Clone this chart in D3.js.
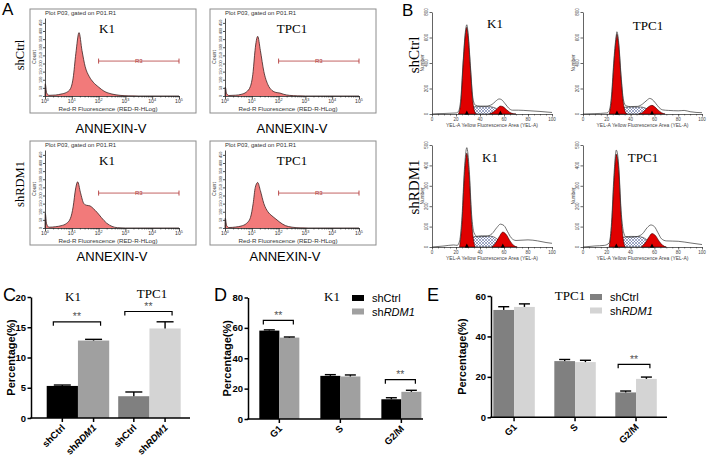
<!DOCTYPE html>
<html><head><meta charset="utf-8">
<script src="https://cdn.jsdelivr.net/npm/d3@7"></script>
<style>body{margin:0;background:#fff}svg{display:block}</style>
</head><body>
<svg id="c" width="708" height="458"></svg>
<script>
// ---------- DATA ----------
// Panel A: Annexin-V histograms, points [log10 fluorescence, count]
const annexDecades = [0,1,2,3,4,5];
const annexCountTicks = [0,50,100,150,200,250,300,350,400,450];
const annexK1Ctrl = [[0,0],[0.01,75],[0.06,20],[0.15,4],[0.4,6],[0.6,12],[0.8,22],[0.95,45],[1.05,110],[1.15,260],[1.27,390],[1.38,280],[1.5,180],[1.65,120],[1.8,85],[2.0,55],[2.2,30],[2.5,12],[2.8,4],[3.1,1],[3.5,0],[5,0]];
const annexTPC1Ctrl = [[0,0],[0.01,55],[0.06,15],[0.15,3],[0.4,5],[0.6,10],[0.8,25],[0.95,60],[1.05,150],[1.12,280],[1.22,367],[1.32,280],[1.45,150],[1.6,70],[1.75,35],[1.9,22],[2.05,18],[2.2,10],[2.4,4],[2.7,1],[3,0],[5,0]];
const annexK1RDM1 = [[0,0],[0.01,90],[0.06,25],[0.15,5],[0.4,8],[0.6,14],[0.8,28],[0.95,60],[1.05,130],[1.14,240],[1.22,284],[1.32,220],[1.45,150],[1.55,140],[1.68,136],[1.8,120],[1.95,95],[2.1,65],[2.3,30],[2.5,10],[2.7,2],[3,0],[5,0]];
const annexTPC1RDM1 = [[0,0],[0.01,60],[0.06,15],[0.15,3],[0.4,6],[0.6,12],[0.8,28],[0.95,65],[1.05,150],[1.13,250],[1.22,280],[1.32,230],[1.45,150],[1.6,100],[1.75,75],[1.9,55],[2.05,35],[2.25,15],[2.5,5],[2.8,1],[3.1,0],[5,0]];
const annexGate = [2,5,215];

// Panel B: cell cycle histograms, points [fluorescence, number]
const cycXTicks = [0,20,40,60,80,100];
const cycTicksTop = [0,200,400,600,800];
const cycTicksBottom = [0,100,200,300,400,500];
const cycK1CtrlTotal = [[0,0],[5,3],[10,4],[15,6],[20,8],[22,20],[24,120],[26,420],[28,660],[29,700],[30,640],[32,380],[34,130],[36,70],[40,62],[45,62],[50,75],[53,100],[56,118],[58,112],[61,80],[64,45],[67,30],[72,30],[80,26],[90,20],[100,12]];
const cycK1CtrlG1 = [[22,0],[24,90],[26,400],[28,640],[29,680],[30,620],[32,360],[34,100],[36,10],[37,0]];
const cycK1CtrlS = [[27,0],[31,35],[34,55],[40,58],[47,58],[52,50],[56,25],[59,0]];
const cycK1CtrlG2 = [[48,0],[51,15],[54,40],[57,62],[59,58],[62,35],[65,12],[68,2],[70,0]];
const cycTPC1CtrlTotal = [[0,0],[10,3],[20,8],[22,25],[24,150],[26,430],[28,620],[28.5,645],[30,560],[32,300],[34,110],[36,65],[40,58],[46,60],[50,78],[54,110],[56,122],[58,115],[61,85],[64,50],[67,32],[72,28],[80,25],[85,28],[90,18],[100,10]];
const cycTPC1CtrlG1 = [[22,0],[24,120],[26,400],[28,600],[28.5,625],[30,540],[32,280],[34,80],[36,8],[37,0]];
const cycTPC1CtrlS = [[27,0],[31,35],[34,52],[40,55],[48,55],[52,48],[56,22],[59,0]];
const cycTPC1CtrlG2 = [[47,0],[50,12],[53,40],[56,62],[58,68],[60,58],[63,32],[66,10],[69,0]];
const cycK1RDM1Total = [[0,0],[10,5],[18,10],[21,8],[23,30],[25,150],[27,380],[29,487],[31,380],[33,160],[35,70],[38,50],[45,52],[50,65],[54,95],[57,112],[60,105],[63,75],[66,45],[70,32],[80,35],[88,30],[95,22],[100,18]];
const cycK1RDM1G1 = [[23,0],[25,120],[27,350],[29,460],[31,350],[33,130],[35,20],[36,0]];
const cycK1RDM1S = [[28,0],[32,30],[35,50],[42,55],[50,52],[55,35],[59,10],[61,0]];
const cycK1RDM1G2 = [[50,0],[53,20],[56,50],[59,73],[62,60],[65,30],[68,8],[71,0]];
const cycTPC1RDM1Total = [[0,0],[10,5],[18,8],[22,20],[24,120],[26,350],[28,475],[30,400],[32,180],[34,75],[36,50],[40,48],[46,52],[50,65],[54,95],[57,108],[60,100],[63,70],[66,40],[70,30],[80,28],[90,20],[100,12]];
const cycTPC1RDM1G1 = [[22,0],[24,100],[26,320],[28,455],[30,380],[32,160],[34,30],[35.5,0]];
const cycTPC1RDM1S = [[27,0],[31,30],[34,48],[40,52],[48,50],[53,38],[57,15],[60,0]];
const cycTPC1RDM1G2 = [[49,0],[52,18],[55,45],[58,66],[61,55],[64,28],[67,8],[70,0]];

// Panel C: apoptosis percentage
const cGroups = ["K1","TPC1"];
const keys = ["shCtrl","shRDM1"];
const cMean = [[5.3,12.8],[3.6,14.8]];
const cErr = [[0.15,0.2],[0.7,1.1]];
const cSig = [15.9,17.6];
const cTicks = [0,5,10,15,20];
// Panels D/E: cell cycle phase percentage
const phases = ["G1","S","G2/M"];
const dMean = [[58.2,53.6],[28.4,28.0],[13.0,17.9]];
const dErr = [[0.5,0.4],[0.8,1.0],[1.0,1.0]];
const dSig = [[0,64.9],[2,25.9]];
const dTicks = [0,20,40,60,80];
const eMean = [[53.1,54.6],[27.8,27.3],[12.3,19.0]];
const eErr = [[1.6,1.5],[0.8,0.9],[0.7,0.9]];
const eSig = [[2,26.2]];
const eTicks = [0,20,40,60];

// ---------- DRAWING ----------
const svg = d3.select("#c");
svg.append("rect").attr("width",708).attr("height",458).attr("fill","#fff");
const defs = svg.append("defs");
const pat = defs.append("pattern").attr("id","hatch").attr("patternUnits","userSpaceOnUse").attr("width",3).attr("height",3);
pat.append("rect").attr("width",3).attr("height",3).attr("fill","#fff");
pat.append("path").attr("d","M0,0L3,3M3,0L0,3").attr("stroke","#44558f").attr("stroke-width",0.5);

const SANS = "Liberation Sans, Arial, sans-serif";
const SERIF = "Liberation Serif, Times New Roman, serif";

function txt(g,x,y,s,size,opt={}){
  const t=g.append("text").attr("x",x).attr("y",y).attr("font-size",size)
    .attr("font-family",opt.serif?SERIF:SANS).attr("fill",opt.fill||"#000")
    .attr("text-anchor",opt.anchor||"start").text(s);
  if(opt.weight) t.attr("font-weight",opt.weight);
  if(opt.rot!==undefined) t.attr("transform",`rotate(${opt.rot},${x},${y})`);
  return t;
}
function styleAxis(a,w,col){a.selectAll("path,line").attr("stroke",col||"#000").attr("stroke-width",w);a.selectAll("text").remove();return a;}

// Panel labels
txt(svg,2,15,"A",17); txt(svg,402,16,"B",17);
txt(svg,3,301,"C",18); txt(svg,214,301,"D",18); txt(svg,427,301,"E",18);

// Row labels
txt(svg,24,55,"shCtrl",12.5,{serif:true,anchor:"middle",rot:-90});
txt(svg,24,184,"shRDM1",12.5,{serif:true,anchor:"middle",rot:-90});
txt(svg,419,55,"shCtrl",15,{serif:true,anchor:"middle",rot:-90});
txt(svg,419,187,"shRDM1",15,{serif:true,anchor:"middle",rot:-90});

// ---- Panel A ----
function flowPanel(bx,by,title,pts,tx){
  const g=svg.append("g");
  g.append("rect").attr("x",bx).attr("y",by).attr("width",166).attr("height",104).attr("fill","none").attr("stroke","#8c8c8c").attr("stroke-width",1);
  const L=bx+15,R=bx+149,T=by+9,B=by+87;
  const x=d3.scaleLinear().domain([0,5]).range([L,R]);
  const y=d3.scaleLinear().domain([0,480]).range([B,T]);
  g.append("path").datum(pts).attr("d",d3.area().x(d=>x(d[0])).y0(B).y1(d=>y(d[1])).curve(d3.curveMonotoneX)).attr("fill","#f27a7a");
  g.append("path").datum(pts).attr("d",d3.line().x(d=>x(d[0])).y(d=>y(d[1])).curve(d3.curveMonotoneX)).attr("fill","none").attr("stroke","#3a2222").attr("stroke-width",0.8);
  styleAxis(g.append("g").attr("transform",`translate(0,${B})`).call(d3.axisBottom(x).tickValues(annexDecades).tickSize(3).tickSizeOuter(0)),0.8,"#222");
  const minor=[];annexDecades.slice(0,-1).forEach(d=>{for(let k=2;k<10;k++)minor.push(d+Math.log10(k));});
  const mg=styleAxis(g.append("g").attr("transform",`translate(0,${B})`).call(d3.axisBottom(x).tickValues(minor).tickSize(1.5)),0.6,"#222");
  mg.select(".domain").remove();
  styleAxis(g.append("g").attr("transform",`translate(${L},0)`).call(d3.axisLeft(y).tickValues(annexCountTicks).tickSize(2).tickSizeOuter(0)),0.8,"#222");
  annexDecades.forEach(d=>{
    const t=txt(g,x(d),B+7,"10",5.2,{anchor:"middle",fill:"#333"});
    t.append("tspan").attr("dy",-2.3).attr("font-size",3.8).text(d);
  });
  annexCountTicks.forEach(v=>txt(g,L-3.5,y(v),v,3.8,{anchor:"middle",rot:-90,fill:"#333"}));
  txt(g,L-9.5,(T+B)/2,"Count",5.2,{anchor:"middle",rot:-90,fill:"#333"});
  txt(g,bx+78,by+101.5,"Red-R Fluorescence (RED-R-HLog)",6.2,{anchor:"middle",fill:"#333"});
  txt(g,L,by+6,"Plot P03, gated on P01.R1",6,{fill:"#333"});
  txt(g,bx+tx,by+24,title,13,{serif:true,anchor:"middle"});
  // gate
  const gy=y(annexGate[2]), gc="#b23a3a";
  g.append("line").attr("x1",x(annexGate[0])).attr("x2",x(annexGate[1])).attr("y1",gy).attr("y2",gy).attr("stroke",gc).attr("stroke-width",0.8);
  [annexGate[0],annexGate[1]].forEach(v=>g.append("line").attr("x1",x(v)).attr("x2",x(v)).attr("y1",gy-2.5).attr("y2",gy+2.5).attr("stroke",gc).attr("stroke-width",0.9));
  txt(g,x((annexGate[0]+annexGate[1])/2),gy+2,"R3",6,{anchor:"middle",fill:gc});
}
flowPanel(30,9,"K1",annexK1Ctrl,77);
flowPanel(210,9,"TPC1",annexTPC1Ctrl,82);
flowPanel(30,141,"K1",annexK1RDM1,77);
flowPanel(210,141,"TPC1",annexTPC1RDM1,82);
txt(svg,111,133,"ANNEXIN-V",13,{anchor:"middle"});
txt(svg,292,133,"ANNEXIN-V",13,{anchor:"middle"});
txt(svg,112,261,"ANNEXIN-V",13,{anchor:"middle"});
txt(svg,285,261,"ANNEXIN-V",13,{anchor:"middle"});

// ---- Panel B ----
function cyclePanel(o){
  const g=svg.append("g");
  const x=d3.scaleLinear().domain([0,100]).range([o.ax,o.ax+o.w]);
  const y=d3.scaleLinear().domain([0,o.ticks[o.ticks.length-1]]).range([o.y0,o.y1]);
  const area=d3.area().x(d=>x(d[0])).y0(o.y0).y1(d=>y(d[1])).curve(d3.curveMonotoneX);
  const line=d3.line().x(d=>x(d[0])).y(d=>y(d[1])).curve(d3.curveMonotoneX);
  g.append("path").datum(o.s).attr("d",area).attr("fill","url(#hatch)").attr("stroke","#222").attr("stroke-width",0.6);
  g.append("path").datum(o.g1).attr("d",area).attr("fill","#e00000").attr("stroke","#300").attr("stroke-width",0.6);
  g.append("path").datum(o.g2).attr("d",area).attr("fill","#e00000").attr("stroke","#300").attr("stroke-width",0.6);
  g.append("path").datum(o.total).attr("d",line).attr("fill","none").attr("stroke","#333").attr("stroke-width",0.7);
  styleAxis(g.append("g").attr("transform",`translate(0,${o.y0})`).call(d3.axisBottom(x).tickValues(cycXTicks).tickSize(2.5).tickSizeOuter(0)),0.7,"#222");
  const minor=d3.range(0,101,5).filter(v=>v%20);
  styleAxis(g.append("g").attr("transform",`translate(0,${o.y0})`).call(d3.axisBottom(x).tickValues(minor).tickSize(1.5)),0.5,"#222").select(".domain").remove();
  styleAxis(g.append("g").attr("transform",`translate(${o.ax},0)`).call(d3.axisLeft(y).tickValues(o.ticks).tickSize(2.5).tickSizeOuter(0)),0.7,"#222");
  cycXTicks.forEach(v=>txt(g,x(v),o.y0+7,v,4.5,{anchor:"middle",fill:"#444"}));
  o.ticks.forEach(v=>txt(g,o.ax-4,y(v),v,4.5,{anchor:"middle",rot:-90,fill:"#444"}));
  txt(g,o.ax-8,(o.y0+o.y1)/2,"Number",4.8,{anchor:"middle",rot:-90,fill:"#444"});
  txt(g,o.ax+o.w/2,o.y0+13,"YEL-A Yellow Fluorescence Area (YEL-A)",5,{anchor:"middle",fill:"#444"});
  txt(g,o.tx,o.ty,o.title,13,{serif:true,anchor:"middle"});
  // mean markers
  [o.g1,o.g2].forEach(arr=>{
    const pk=arr.reduce((a,b)=>b[1]>a[1]?b:a);
    const cx=x(pk[0]);
    g.append("path").attr("d",`M${cx-2},${o.y0+0.5}L${cx+2},${o.y0+0.5}L${cx},${o.y0-3.5}Z`).attr("fill","#000");
  });
}
cyclePanel({ax:432,w:120,y0:114,y1:12,ticks:cycTicksTop,total:cycK1CtrlTotal,g1:cycK1CtrlG1,s:cycK1CtrlS,g2:cycK1CtrlG2,title:"K1",tx:495,ty:28});
cyclePanel({ax:583,w:119,y0:114,y1:12,ticks:cycTicksTop,total:cycTPC1CtrlTotal,g1:cycTPC1CtrlG1,s:cycTPC1CtrlS,g2:cycTPC1CtrlG2,title:"TPC1",tx:648,ty:30});
cyclePanel({ax:432,w:120,y0:247,y1:145,ticks:cycTicksBottom,total:cycK1RDM1Total,g1:cycK1RDM1G1,s:cycK1RDM1S,g2:cycK1RDM1G2,title:"K1",tx:490,ty:162});
cyclePanel({ax:583,w:119,y0:247,y1:145,ticks:cycTicksBottom,total:cycTPC1RDM1Total,g1:cycTPC1RDM1G1,s:cycTPC1RDM1S,g2:cycTPC1RDM1G2,title:"TPC1",tx:643,ty:162});

// ---- Bar panels ----
function keyLabel(t,k){
  if(k==="shRDM1"){t.text("sh");t.append("tspan").attr("font-style","italic").text("RDM1");}
  else t.text(k);
}
function barPanel(o){
  const g=svg.append("g");
  const y=d3.scaleLinear().domain([0,o.ticks[o.ticks.length-1]]).range([o.y0,o.y1]);
  const x0=d3.scaleBand().domain(o.groups).range(o.xr).paddingInner(o.pi).paddingOuter(o.po);
  const x1=d3.scaleBand().domain(keys).range([0,x0.bandwidth()]);
  const bw=x1.bandwidth();
  o.groups.forEach((grp,gi)=>{
    keys.forEach((k,ki)=>{
      const xx=x0(grp)+x1(k), v=o.mean[gi][ki], e=o.err[gi][ki], cx=xx+bw/2;
      g.append("rect").attr("x",xx).attr("y",y(v)).attr("width",bw).attr("height",o.y0-y(v)).attr("fill",o.colors[gi][ki]);
      g.append("line").attr("x1",cx).attr("x2",cx).attr("y1",y(v)).attr("y2",y(v+e)).attr("stroke","#000").attr("stroke-width",1.4);
      g.append("line").attr("x1",cx-o.cap/2).attr("x2",cx+o.cap/2).attr("y1",y(v+e)).attr("y2",y(v+e)).attr("stroke","#000").attr("stroke-width",1.4);
    });
  });
  // axes
  const ya=g.append("g").attr("transform",`translate(${o.ax},0)`).call(d3.axisLeft(y).tickValues(o.ticks).tickSize(3.5).tickSizeOuter(0));
  ya.selectAll("path,line").attr("stroke","#000").attr("stroke-width",1.5);
  ya.selectAll("text").remove();
  o.ticks.forEach(v=>txt(g,o.ax-5,y(v)+3.5,v,9.5,{anchor:"end",weight:"bold"}));
  g.append("line").attr("x1",o.ax-0.75).attr("x2",o.axEnd).attr("y1",o.y0).attr("y2",o.y0).attr("stroke","#000").attr("stroke-width",1.5);
  const tickXs=[];
  if(o.perBar){
    o.groups.forEach(grp=>keys.forEach(k=>tickXs.push({x:x0(grp)+x1(k)+bw/2,k})));
  } else {
    o.groups.forEach(grp=>tickXs.push({x:x0(grp)+x0.bandwidth()/2,k:grp}));
  }
  tickXs.forEach(d=>{
    g.append("line").attr("x1",d.x).attr("x2",d.x).attr("y1",o.y0).attr("y2",o.y0+4).attr("stroke","#000").attr("stroke-width",1.5);
    const t=g.append("text").attr("transform",`translate(${d.x+1},${o.y0+8}) rotate(-45)`).attr("dy","0.35em")
      .attr("text-anchor","end").attr("font-size",9.5).attr("font-weight","bold").attr("font-family",SANS);
    keyLabel(t,d.k);
  });
  txt(g,o.ylx,(o.y0+o.y1)/2,"Percentage(%)",11,{anchor:"middle",rot:-90,weight:"bold"});
  // significance brackets
  o.sig.forEach(s=>{
    const grp=o.groups[s[0]];
    const a=x0(grp)+x1(keys[0])+bw/2-o.bl, b=x0(grp)+x1(keys[1])+bw/2+o.br, yy=y(s[1]);
    g.append("path").attr("d",`M${a},${yy+4}V${yy}H${b}V${yy+4}`).attr("fill","none").attr("stroke","#000").attr("stroke-width",1.2);
    txt(g,(a+b)/2,yy-1.5,"**",10.5,{anchor:"middle",fill:"#555"});
  });
  (o.titles||[]).forEach(t=>txt(g,t[1],t[2],t[0],13,{serif:true,anchor:"middle"}));
  if(o.legend){
    keys.forEach((k,i)=>{
      const ly=o.legend[1]+i*13.5;
      g.append("rect").attr("x",o.legend[0]).attr("y",ly-3).attr("width",12).attr("height",6).attr("fill",o.colors[0][i]);
      keyLabel(g.append("text").attr("x",o.legend[0]+20).attr("y",ly+4).attr("font-size",11).attr("font-family",SANS),k);
    });
  }
}
barPanel({groups:cGroups,mean:cMean,err:cErr,sig:cSig.map((v,i)=>[i,v]),ticks:cTicks,y0:418,y1:297,ax:31,axEnd:190,
  xr:[42.2,185.2],pi:0.126,po:0.063,cap:17,perBar:true,ylx:15,bl:9,br:7,
  colors:[["#000000","#a0a0a0"],["#808080","#d4d4d4"]],titles:[["K1",73,301],["TPC1",152,297.5]]});
barPanel({groups:phases,mean:dMean,err:dErr,sig:dSig,ticks:dTicks,y0:419,y1:297.5,ax:248,axEnd:423,
  xr:[252,428.7],pi:0.344,po:0.12,cap:11,perBar:false,ylx:231,bl:6,br:4,
  colors:[["#000000","#a0a0a0"],["#000000","#a0a0a0"],["#000000","#a0a0a0"]],titles:[["K1",332,301]],legend:[352,298]});
barPanel({groups:phases,mean:eMean,err:eErr,sig:eSig,ticks:eTicks,y0:417.3,y1:296,ax:491,axEnd:667,
  xr:[491.5,658.6],pi:0.32,po:0.03,cap:11,perBar:false,ylx:466,bl:7.5,br:3.5,
  colors:[["#808080","#d4d4d4"],["#808080","#d4d4d4"],["#808080","#d4d4d4"]],titles:[["TPC1",570,300]],legend:[590,297]});
</script>
</body></html>
